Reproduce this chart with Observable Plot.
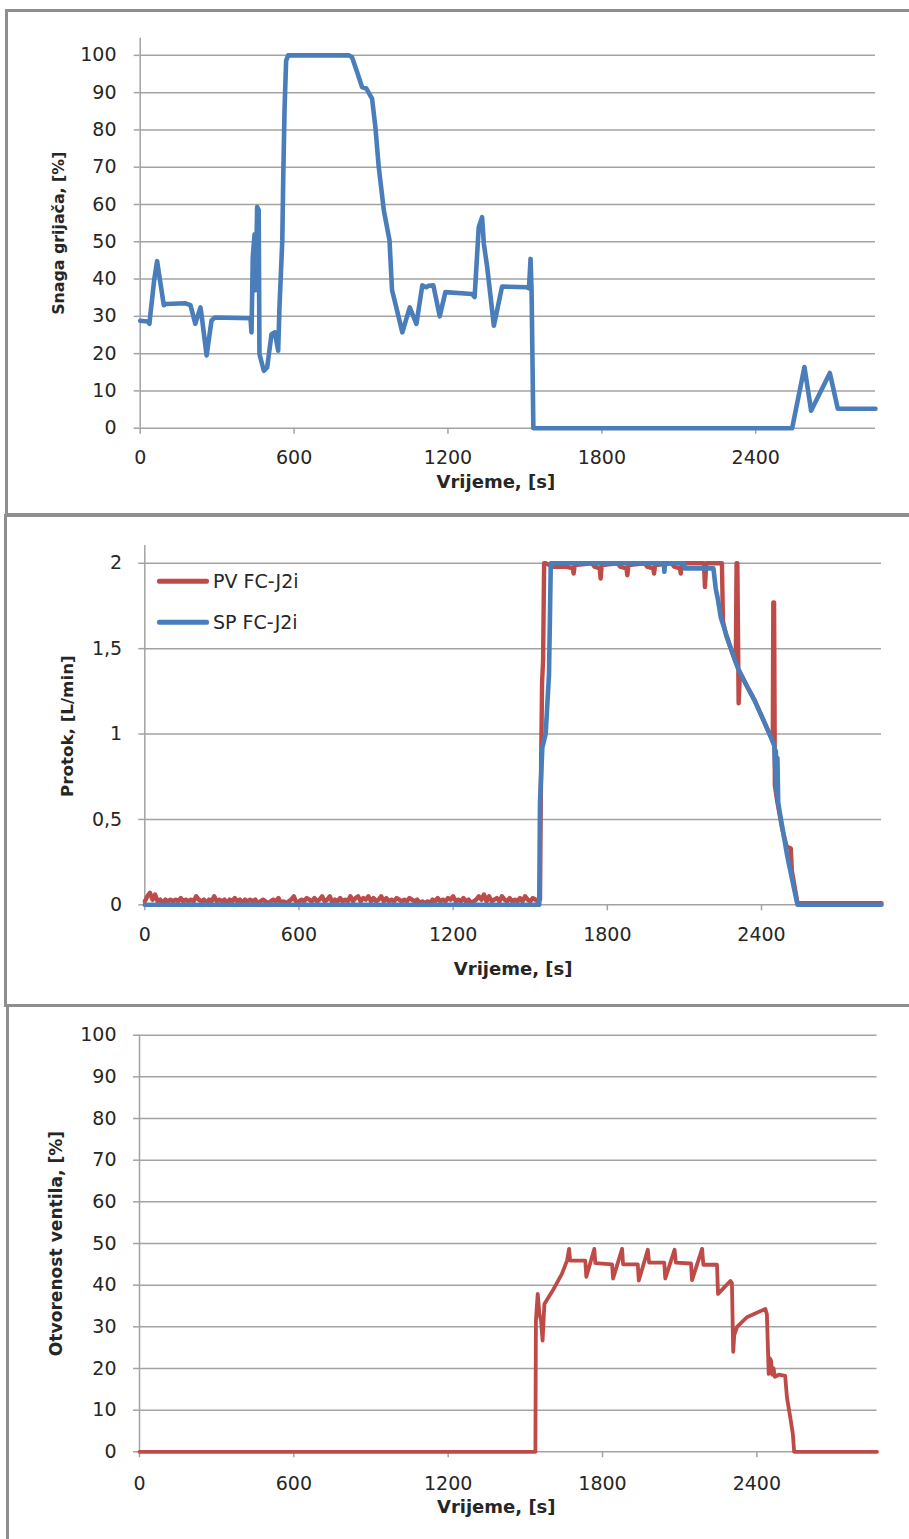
<!DOCTYPE html>
<html>
<head>
<meta charset="utf-8">
<script src="https://cdn.jsdelivr.net/npm/d3@7"></script>
<script src="https://cdn.jsdelivr.net/npm/@observablehq/plot@0.6"></script>
<style>
html, body { margin: 0; padding: 0; background: #fff; }
#page { position: relative; width: 909px; height: 1539px; overflow: hidden; background: #fff; }
.panel { position: absolute; left: 0; }
.frame { position: absolute; border: 3px solid #8e8e8e; box-sizing: border-box; pointer-events: none; }
.legtext { position: absolute; font-family: "DejaVu Sans", sans-serif; font-size: 19px; line-height: 19px; color: #262626; white-space: nowrap; transform: translateY(-50%); }
.legline { position: absolute; height: 4.5px; border-radius: 2px; transform: translateY(-50%); }
</style>
</head>
<body>
<div id="page">
  <div class="panel" id="p1" style="top:0px"></div>
  <div class="panel" id="p2" style="top:513px"></div>
  <div class="panel" id="p3" style="top:1005px"></div>
  <div class="frame" style="left:5px; top:9px; width:1000px; height:507px"></div>
  <div class="frame" style="left:4px; top:514px; width:1000px; height:493px"></div>
  <div class="frame" style="left:6px; top:1004px; width:1000px; height:600px"></div>
  <div id="legend"></div>
</div>
<script>
// ---------- tick values & labels ----------
const timeTicks = [0, 600, 1200, 1800, 2400];
const timeMax = 2867;
const percentTicks = [0, 10, 20, 30, 40, 50, 60, 70, 80, 90, 100];
const flowTicks = [0, 0.5, 1, 1.5, 2];

const xTitle = "Vrijeme, [s]";
const heaterTitle = "Snaga grijača, [%]";
const flowTitle = "Protok, [L/min]";
const valveTitle = "Otvorenost ventila, [%]";
const pvName = "PV FC-J2i";
const spName = "SP FC-J2i";

// ---------- series: [time s, value] ----------
const heaterPower = [
  [0,28.8],[30,28.6],[36,28],[40,30.7],[55,40],[66,44.8],[72,42],[92,33],[100,33.3],[177,33.5],
  [185,33.3],[196,33],[215,28],[235,32.4],[240,30],[259,19.5],[278,28.9],[291,29.7],[430,29.5],
  [434,25.7],[439,46],[446,52],[450,37],[456,59.3],[462,58.5],[465,19.9],[482,15.4],[495,16.3],
  [512,25.2],[525,25.7],[538,20.8],[543,32.4],[554,50.3],[558,68.2],[563,86],[569,98.6],[577,100],
  [813,100],[826,99.5],[846,95.5],[865,91.5],[882,91.1],[904,88.4],[917,80.8],[930,70.1],[950,58.4],
  [972,50.4],[982,37],[995,33.4],[1022,25.7],[1051,32.4],[1077,28],[1100,38.3],[1115,37.8],
  [1125,38.2],[1143,38.3],[1168,30],[1190,36.5],[1294,36],[1304,35.2],[1320,53.9],[1333,56.6],
  [1340,49.4],[1353,43.2],[1379,27.5],[1411,38],[1509,37.8],[1516,37.5],[1522,45.4],[1526,37],
  [1529,20.8],[1533,0],[2542,0],[2590,16.4],[2616,4.7],[2689,14.8],[2720,5.2],[2867,5.2]
];

const pvFlow = [
  [0,0.02],[10,0.05],[20,0.07],[30,0.03],[40,0.06],[50,0.02],[60,0.03],[70,0.01],[80,0.03],[90,0.02],
  [100,0.03],[110,0.02],[120,0.03],[130,0.02],[140,0.04],[150,0.02],[160,0.03],[170,0.02],[180,0.03],[190,0.02],
  [200,0.05],[210,0.03],[220,0.02],[230,0.03],[240,0.01],[250,0.03],[260,0.02],[270,0.05],[280,0.02],[290,0.03],
  [300,0.02],[310,0.03],[320,0.01],[330,0.03],[340,0.02],[350,0.04],[360,0.02],[370,0.03],[380,0.01],[390,0.03],
  [400,0.02],[410,0.03],[420,0.02],[430,0.03],[440,0.01],[450,0.02],[460,0.03],[470,0.02],[480,0.01],[490,0.02],
  [500,0.03],[510,0.02],[520,0.04],[530,0.01],[540,0.02],[550,0.01],[560,0.02],[570,0.03],[580,0.05],[590,0.01],
  [600,0.02],[610,0.03],[620,0.02],[630,0.04],[640,0.03],[650,0.02],[660,0.04],[670,0.02],[680,0.03],[690,0.05],
  [700,0.02],[710,0.03],[720,0.05],[730,0.01],[740,0.03],[750,0.02],[760,0.04],[770,0.02],[780,0.03],[790,0.02],
  [800,0.05],[810,0.02],[820,0.04],[830,0.05],[840,0.02],[850,0.04],[860,0.03],[870,0.05],[880,0.02],[890,0.04],
  [900,0.02],[910,0.03],[920,0.05],[930,0.02],[940,0.04],[950,0.02],[960,0.03],[970,0.02],[980,0.04],[990,0.03],
  [1000,0.02],[1010,0.03],[1020,0.02],[1030,0.04],[1040,0.03],[1050,0.02],[1060,0.03],[1070,0.01],[1080,0.02],[1090,0.01],
  [1100,0.02],[1110,0.01],[1120,0.03],[1130,0.02],[1140,0.04],[1150,0.02],[1160,0.03],[1170,0.02],[1180,0.04],[1190,0.03],
  [1200,0.05],[1210,0.02],[1220,0.03],[1230,0.02],[1240,0.04],[1250,0.02],[1260,0.03],[1270,0.01],[1280,0.02],[1290,0.03],
  [1300,0.05],[1310,0.03],[1320,0.06],[1330,0.02],[1340,0.05],[1350,0.02],[1360,0.03],[1370,0.04],[1380,0.02],[1390,0.05],
  [1400,0.03],[1410,0.02],[1420,0.04],[1430,0.02],[1440,0.03],[1450,0.02],[1460,0.04],[1470,0.02],[1480,0.05],[1490,0.03],
  [1500,0.02],[1510,0.04],[1520,0.03],[1530,0.02],
  [1538,0.03],[1541,0.62],[1546,1.3],[1550,1.43],[1554,2.0],[1560,2.0],[1575,1.99],[1590,1.98],[1640,1.98],
  [1665,1.97],[1669,1.94],[1673,1.99],[1740,2.0],[1750,1.98],[1770,1.97],[1774,1.91],[1778,1.99],[1840,2.0],
  [1850,1.98],[1874,1.97],[1878,1.93],[1882,1.99],[1945,2.0],[1955,1.98],[1978,1.97],[1982,1.94],[1986,1.99],
  [2050,2.0],[2060,1.98],[2082,1.97],[2086,1.94],[2090,2.0],[2176,2.0],[2180,1.86],[2185,2.0],[2246,2.0],
  [2250,1.66],[2262,1.58],[2290,1.46],[2300,1.42],[2303,2.0],[2306,2.0],[2311,1.18],[2316,1.36],[2340,1.29],
  [2372,1.2],[2405,1.09],[2437,0.98],[2444,0.96],[2446,1.77],[2449,1.77],[2452,0.7],[2462,0.6],[2480,0.45],
  [2496,0.35],[2500,0.34],[2514,0.33],[2518,0.2],[2540,0.01],[2867,0.01]
];

const spFlow = [
  [0,0],[1535,0],[1538,0.6],[1547,0.92],[1560,1.0],[1573,1.35],[1580,2.0],[2020,2.0],[2022,1.95],[2025,2.0],
  [2099,2.0],[2101,1.97],[2213,1.97],[2222,1.85],[2229,1.8],[2242,1.68],[2274,1.53],[2307,1.39],[2340,1.29],
  [2372,1.2],[2405,1.09],[2437,0.98],[2450,0.93],[2453,0.8],[2456,0.9],[2459,0.66],[2462,0.86],[2465,0.6],
  [2470,0.55],[2501,0.28],[2540,0],[2867,0]
];

const valveOpening = [
  [0,0],[1539,0],[1541,31.5],[1548,37.9],[1555,33],[1561,31.5],[1567,26.7],[1574,35.5],[1610,39.1],[1642,42.7],
  [1662,45.9],[1670,48.7],[1674,45.9],[1733,45.9],[1737,42],[1768,48.7],[1772,45.3],[1837,45],[1841,41.6],
  [1876,48.7],[1880,45],[1937,45],[1941,41.1],[1976,48.5],[1981,45.4],[2040,45.4],[2044,41.6],[2080,48.5],
  [2085,45.4],[2144,45.2],[2148,41.2],[2187,48.7],[2192,44.9],[2245,44.9],[2249,37.9],[2297,41],[2303,40.5],
  [2308,24],[2312,28],[2323,30],[2361,32.3],[2433,34.3],[2439,33],[2446,18.7],[2450,22.5],[2455,21.9],
  [2460,18.5],[2465,20],[2470,18],[2485,18.5],[2510,18.2],[2517,13],[2530,8.2],[2540,4.2],[2545,0],[2867,0]
];

// ---------- styling ----------
const GRID = "#a3a3a3";
const BLUE = "#4a7ebb";
const RED = "#be4b48";
const TEXT = "#262626";
const FONT = "DejaVu Sans, sans-serif";

function panel(o) {
  return Plot.plot({
    width: 909, height: o.height,
    marginTop: o.mt, marginBottom: o.mb, marginLeft: o.ml, marginRight: o.mr,
    style: {background: "transparent", fontFamily: FONT, fontSize: "19px", color: TEXT, overflow: "visible"},
    x: {domain: [0, timeMax]},
    y: {domain: o.yDomain},
    marks: [
      Plot.gridY(o.yTicks, {stroke: GRID, strokeOpacity: 1, strokeWidth: 1.5}),
      Plot.axisY(o.yTicks, {tickSize: 6, tickPadding: o.yPad, stroke: GRID, strokeWidth: 1.5, fill: TEXT,
        tickFormat: o.yFmt, fontSize: 19, label: null}),
      Plot.axisX(timeTicks, {tickSize: 6, tickPadding: o.xPad, stroke: GRID, strokeWidth: 1.5, fill: TEXT,
        tickFormat: d => String(d), fontSize: 19, label: null}),
      Plot.ruleX([0], {stroke: GRID, strokeWidth: 1.5}),
      ...o.series.map(s => Plot.line(s.data, {x: d => d[0], y: d => d[1], stroke: s.color,
        strokeWidth: s.w, strokeLinejoin: "round", strokeLinecap: "round"})),
      Plot.text([xTitle], {text: d => d, frameAnchor: "bottom", lineAnchor: "middle", dy: o.xtDy, dx: o.xtDx,
        fontWeight: "bold", fontSize: 18, fill: TEXT, fontFamily: FONT}),
      Plot.text([o.yTitle], {text: d => d, frameAnchor: "left", lineAnchor: "middle", textAnchor: "middle",
        rotate: -90, dx: o.ytDx, dy: o.ytDy, fontWeight: "bold", fontSize: o.ytSize, fill: TEXT, fontFamily: FONT})
    ]
  });
}

document.getElementById("p1").appendChild(panel({
  height: 513, mt: 37.7, mb: 85.3, ml: 139.7, mr: 34,
  yDomain: [0, 104.6], yTicks: percentTicks, yFmt: d => String(d), yPad: 17.7, xPad: 16.5,
  series: [{data: heaterPower, color: BLUE, w: 4.6}],
  xtDy: 54.3, xtDx: -12, yTitle: heaterTitle, ytDx: -81.7, ytDy: 0, ytSize: 15.8
}));

document.getElementById("p2").appendChild(panel({
  height: 492, mt: 32, mb: 100.7, ml: 144.3, mr: 28,
  yDomain: [0, 2.104], yTicks: flowTicks, yFmt: d => String(d).replace(".", ","), yPad: 16.6, xPad: 16.5,
  series: [{data: pvFlow, color: RED, w: 4.4}, {data: spFlow, color: BLUE, w: 4.6}],
  xtDy: 64.7, xtDx: 0, yTitle: flowTitle, ytDx: -77.6, ytDy: 1, ytSize: 16.7
}));

document.getElementById("p3").appendChild(panel({
  height: 534, mt: 29.7, mb: 87.7, ml: 139, mr: 32.5,
  yDomain: [0, 100], yTicks: percentTicks, yFmt: d => String(d), yPad: 17, xPad: 18.8,
  series: [{data: valveOpening, color: RED, w: 3.8}],
  xtDy: 55.7, xtDx: -12, yTitle: valveTitle, ytDx: -82.8, ytDy: 0, ytSize: 17.1
}));

// ---------- legend for the flow panel ----------
const legendItems = [
  {name: pvName, color: RED, top: 581},
  {name: spName, color: BLUE, top: 622.3}
];
const leg = document.getElementById("legend");
for (const it of legendItems) {
  const ln = document.createElement("div");
  ln.className = "legline";
  ln.style.cssText = `left:157px; top:${it.top}px; width:52px; background:${it.color}`;
  leg.appendChild(ln);
  const tx = document.createElement("div");
  tx.className = "legtext";
  tx.style.cssText = `left:213px; top:${it.top}px`;
  tx.textContent = it.name;
  leg.appendChild(tx);
}
</script>
</body>
</html>
